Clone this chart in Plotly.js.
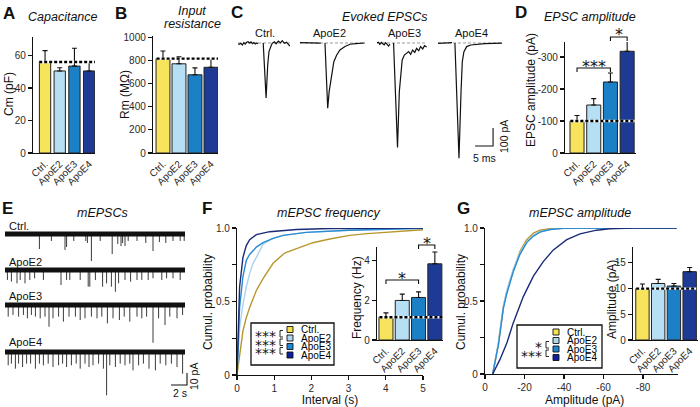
<!DOCTYPE html>
<html><head><meta charset="utf-8">
<script src="https://cdn.plot.ly/plotly-3.0.1.min.js"></script>
<style>html,body{margin:0;padding:0;background:#fff}#chart{width:700px;height:407px}</style>
</head><body><div id="chart"></div>
<script>
// ---------------- DATA ----------------
const groups = ['Ctrl.', 'ApoE2', 'ApoE3', 'ApoE4'];
const barColors = ['#f8e45c', '#b6dff4', '#1b80c6', '#1d3b94'];
const curveColors = ['#b8962e', '#a9d3ee', '#2a8ad0', '#1a2c78'];
const legendColors = ['#f5e44a', '#b0d6ec', '#1e86d2', '#0e1f9c'];

// A: capacitance (pF)
const capMean = [56, 50.5, 53.5, 50.5];
const capSem  = [7, 2, 11, 5.3];
// B: input resistance (MOhm)
const rmMean = [815, 770, 675, 740];
const rmSem  = [65, 60, 60, 75];
// D: evoked EPSC amplitude (pA)
const epscMean = [-100, -150, -222, -318];
const epscSem  = [17, 20, 28, 32];
// F inset: mEPSC frequency (Hz)
const freqMean = [1.15, 2.0, 2.15, 3.85];
const freqSem  = [0.22, 0.32, 0.28, 0.6];
// G inset: mEPSC amplitude (pA)
const ampMean = [10.0, 11.0, 10.5, 13.3];
const ampSem  = [0.9, 0.8, 0.5, 0.8];

// C: example evoked EPSC traces (time ms, current pA)
const cCtrlT = [0,0.4,0.8,1.2,1.6,2.0,2.4,2.8,3.2,3.6,4.0,4.4,4.8,5.2,5.56,null,7.0,7.8,8.25,8.6,9.2,9.5,10.1,10.6,11.2,11.8,12.3,12.9,13.5,14.0,14.4];
const cCtrlI = [-4,-7,-2,-11,2,-6,4,7,0,6,-4,2,-6,0,-4,null,0,-305,-122,-48,-15,-2,7,-4,11,0,13,-2,4,-7,-17];
const cE2T = [0,1,2,3,4,5,5.75,null,6.94,7.7,8.1,8.8,9.4,10.2,11.1,12.5,13.9,15.5,18.0];
const cE2I = [2,1,2,0,1,0,-1,null,0,-363,-270,-178,-104,-67,-39,-19,-7,-3,0];
const cE3T = [0,0.4,0.8,1.2,1.6,2.0,2.4,2.8,3.2,3.6,null,4.6,5.7,6.2,6.6,7.0,7.6,8.2,8.8,9.35,9.9,10.5,11.0,11.6,12.1,12.7,13.2,13.8];
const cE3I = [0,4,-8,3,-4,-10,2,-6,-17,-6,null,0,-580,-270,-159,-94,-67,-57,-48,-63,-39,-52,-30,-43,-20,-33,-15,-22];
const cE4T = [0,1,2,3,3.9,null,4.7,5.83,6.4,6.75,7.2,7.97,9.1,10.75,13,15.5,17.8];
const cE4I = [-2,0,1,0,2,null,0,-640,-270,-104,-48,-20,-11,-7,-4,-2,-1];

// E: mEPSC events (time s, amplitude pA) per example trace; trace length 22.5 s
const eDur = 22.5;
const eCtrlT = [4.3,5.8,7.5,7.7,8.6,10.1,10.3,10.8,11.9,13.4,14.1,14.5,14.7,15.0,15.4,16.5,17.6,18.5,19.3,20.1,21.0,21.9,22.4];
const eCtrlA = [-12.5,-5.8,-13.3,-10.8,-5.8,-5.8,-7.5,-22.5,-5.8,-16.7,-8.3,-10,-7.5,-10,-5.8,-5.8,-7.5,-14.2,-6.7,-7.5,-5.8,-5.8,-5.8];
const eE2T = [0.3,0.8,1.5,1.9,2.5,3.1,3.7,4.8,7.0,7.7,8.1,9.4,10.4,10.6,11.3,12.2,12.7,13.3,13.8,14.2,15.0,15.7,16.5,17.1,17.9,18.5,19.6,20.2,21.0,21.9];
const eE2A = [-8.3,-9.7,-11.1,-8.3,-11.1,-8.3,-6.9,-8.3,-12.5,-8.3,-8.3,-8.3,-13.9,-13.9,-8.3,-13.9,-11.1,-13.9,-18.1,-11.1,-8.3,-9.7,-8.3,-8.3,-8.3,-6.9,-8.3,-6.9,-6.9,-8.3];
const eE3T = [0.4,1.0,1.7,2.3,2.8,3.3,3.8,4.4,5.0,5.5,6.0,6.7,7.3,8.0,8.8,9.4,10.0,10.8,11.5,12.1,12.8,13.5,14.3,14.9,15.6,16.5,17.1,17.7,18.5,19.2,20.0,20.6,21.5,22.2];
const eE3A = [-9.7,-8.3,-9.7,-8.3,-11.1,-8.3,-9.7,-11.1,-9.7,-18.1,-11.1,-9.7,-13.9,-9.7,-9.7,-12.5,-11.1,-9.7,-11.1,-9.7,-15.3,-11.1,-12.5,-9.7,-13.9,-9.7,-11.1,-9.7,-31.4,-11.1,-16.7,-9.7,-11.1,-8.3];
const eE4T = [0.4,0.8,1.3,1.7,2.2,2.7,3.2,3.8,4.3,4.8,5.4,6.0,6.7,7.2,7.7,8.3,8.9,9.4,10.0,10.5,11.0,11.7,12.3,12.7,13.1,13.8,14.4,15.0,15.6,16.0,16.7,17.3,18.0,18.8,19.4,20.1,20.8,21.5,22.2];
const eE4A = [-11.1,-9.7,-13.9,-9.7,-12.5,-9.7,-9.7,-13.9,-9.7,-11.1,-9.7,-12.5,-11.1,-9.7,-12.5,-11.1,-9.7,-13.9,-9.7,-12.5,-11.1,-9.7,-13.9,-36.1,-11.1,-12.5,-9.7,-11.1,-9.7,-15.3,-11.1,-9.7,-13.9,-15.3,-9.7,-11.1,-9.7,-12.5,-18.1];

// F: cumulative probability of inter-event interval (s)
const fCtrlT = [0,0.07,0.16,0.25,0.34,0.52,0.7,0.97,1.28,1.6,2.04,2.49,3.03,3.5,4.0,4.5,5.0];
const fCtrlP = [0,0.14,0.30,0.39,0.46,0.575,0.655,0.76,0.83,0.86,0.90,0.925,0.95,0.962,0.972,0.98,0.988];
const fE2T = [0,0.03,0.07,0.16,0.25,0.34,0.43,0.52,0.61,0.7,0.97,1.24,1.86,3.0,5.0];
const fE2P = [0,0.15,0.32,0.48,0.6,0.69,0.76,0.8,0.84,0.89,0.93,0.95,0.97,0.985,0.998];
const fE3T = [0,0.03,0.07,0.16,0.25,0.34,0.52,0.7,0.97,1.24,1.86,3.0,5.0];
const fE3P = [0,0.22,0.46,0.67,0.78,0.82,0.87,0.9,0.93,0.95,0.97,0.985,0.998];
const fE4T = [0,0.03,0.07,0.16,0.25,0.34,0.52,0.88,1.6,2.5,5.0];
const fE4P = [0,0.3,0.6,0.8,0.88,0.92,0.955,0.975,0.99,0.997,1.0];

// G: cumulative probability of mEPSC amplitude (pA)
const gCtrlA = [-3.9,-6.8,-9.3,-11,-14.3,-17.7,-21.1,-24.5,-27.8,-32.9,-40,-60,-97];
const gCtrlP = [0,0.21,0.46,0.56,0.71,0.84,0.92,0.965,0.985,0.995,1,1,1];
const gE2A = [-3.9,-6.8,-9.3,-11,-14.3,-17.7,-21.1,-24.5,-27.8,-32.9,-40,-60,-97];
const gE2P = [0,0.22,0.47,0.57,0.72,0.83,0.905,0.95,0.975,0.99,1,1,1];
const gE3A = [-3.9,-6.8,-9.3,-11,-14.3,-17.7,-21.1,-24.5,-27.8,-32.9,-40,-60,-97];
const gE3P = [0,0.2,0.45,0.55,0.7,0.82,0.9,0.945,0.972,0.99,0.998,1,1];
const gE4A = [-3.9,-7.6,-11,-14.3,-19.4,-24.5,-29.5,-34.6,-41.4,-48.1,-56.5,-63,-75,-97];
const gE4P = [0,0.1,0.21,0.35,0.53,0.67,0.77,0.85,0.92,0.96,0.985,0.995,1,1];

// ---------------- LAYOUT HELPERS ----------------
const W = 700, H = 407;
const X = p => p / W;
const Y = p => 1 - p / H;
const dx = (a, b) => [a / W, b / W];
const dy = (top, bottom) => [1 - bottom / H, 1 - top / H];
const FONT = 'Liberation Sans, Arial, sans-serif';
const AX = {showline: true, linecolor: '#111', linewidth: 1.2, ticks: 'outside', ticklen: 4,
  tickwidth: 1.1, tickcolor: '#111', showgrid: false, zeroline: false, fixedrange: true,
  tickfont: {family: FONT, size: 10, color: '#2a2a2a'}};
const HID = {visible: false, showgrid: false, zeroline: false, fixedrange: true};

const data = [];
const shapes = [];
const ann = [];

function barPanel(xa, ya, means, sems, negative, width) {
  const zeros = means.map(() => 0);
  data.push({type: 'bar', x: [0, 1, 2, 3], y: means, width: width, xaxis: xa, yaxis: ya,
    marker: {color: barColors, line: {color: '#222', width: 1}},
    error_y: {type: 'data', symmetric: false, array: negative ? zeros : sems,
      arrayminus: negative ? sems : zeros, color: '#111', thickness: 1.1, width: 2.5},
    hoverinfo: 'skip', showlegend: false});
  const ref = means[0];
  data.push({type: 'scatter', mode: 'lines', x: [-0.4, 3.45], y: [ref, ref], xaxis: xa, yaxis: ya,
    line: {color: '#fff', width: 2.4}, hoverinfo: 'skip', showlegend: false});
  data.push({type: 'scatter', mode: 'lines', x: [-0.4, 3.45], y: [ref, ref], xaxis: xa, yaxis: ya,
    line: {color: '#000', width: 2.4, dash: '3px,2px'}, hoverinfo: 'skip', showlegend: false});
}
function line(xa, ya, xs, ys, color, w, dash) {
  data.push({type: 'scatter', mode: 'lines', x: xs, y: ys, xaxis: xa, yaxis: ya,
    line: {color: color, width: w, dash: dash || 'solid'}, connectgaps: false,
    hoverinfo: 'skip', showlegend: false});
}
function txt(px, py, t, size, opts) {
  ann.push(Object.assign({xref: 'paper', yref: 'paper', x: X(px), y: Y(py), text: t,
    showarrow: false, xanchor: 'center', yanchor: 'middle',
    font: {family: FONT, size: size, color: '#111'}}, opts || {}));
}
function catAxis(dom, range) {
  return Object.assign({}, AX, {domain: dom, range: range, tickvals: [0, 1, 2, 3], ticktext: groups,
    tickangle: -45, ticks: ''});
}

// ---- A ----
barPanel('x', 'y', capMean, capSem, false, 0.77);
// ---- B ----
barPanel('x2', 'y2', rmMean, rmSem, false, 0.87);
// ---- D ----
barPanel('x7', 'y4', epscMean, epscSem, true, 0.84);
// ---- F inset ----
barPanel('x10', 'y10', freqMean, freqSem, false, 0.86);
// ---- G inset ----
barPanel('x12', 'y12', ampMean, ampSem, false, 0.85);

// ---- C traces ----
const cTr = [[cCtrlT, cCtrlI, 'x3'], [cE2T, cE2I, 'x4'], [cE3T, cE3I, 'x5'], [cE4T, cE4I, 'x6']];
cTr.forEach(([t, I, xa]) => {
  const tt = t.filter(v => v !== null);
  line(xa, 'y3', [Math.min(...tt), Math.max(...tt)], [0, 0], '#999', 1, '3px,2px');
  line(xa, 'y3', t, I, '#111', 1.2);
});

// ---- E traces ----
const eTr = [[eCtrlT, eCtrlA, 'y5'], [eE2T, eE2A, 'y6'], [eE3T, eE3A, 'y7'], [eE4T, eE4A, 'y8']];
eTr.forEach(([t, A, ya]) => {
  const xs = [], ys = [];
  t.forEach((v, i) => { xs.push(v, v, null); ys.push(0, A[i], null); });
  line('x8', ya, xs, ys, '#3a3a3a', 1);
  line('x8', ya, [0, eDur], [0, 0], '#111', 5);
});

// ---- F curves ----
[[fCtrlT, fCtrlP], [fE2T, fE2P], [fE3T, fE3P], [fE4T, fE4P]].forEach(([t, p], i) =>
  line('x9', 'y9', t, p, curveColors[i], 1.4));
// ---- G curves ----
[[gCtrlA, gCtrlP], [gE2A, gE2P], [gE3A, gE3P], [gE4A, gE4P]].forEach(([a, p], i) =>
  line('x11', 'y11', a, p, curveColors[i], 1.4));

// ---------------- AXES ----------------
const cumTicks = {tickvals: [0, 0.25, 0.5, 0.75, 1], ticktext: ['0', '', '0.5', '', '1.0']};
const xTitleFont = {family: FONT, size: 12, color: '#111'};
const layout = {
  width: W, height: H, margin: {l: 0, r: 0, t: 0, b: 0}, paper_bgcolor: '#fff', plot_bgcolor: 'rgba(0,0,0,0)',
  showlegend: false, font: {family: FONT, color: '#111'},
  // A
  xaxis: Object.assign(catAxis(dx(33, 95), [-0.82, 3.4]), {anchor: 'y'}),
  yaxis: Object.assign({}, AX, {domain: dy(37, 153), range: [0, 71.4], tickvals: [0, 20, 40, 60], anchor: 'x'}),
  // B
  xaxis2: Object.assign(catAxis(dx(153, 218), [-0.625, 3.44]), {anchor: 'y2'}),
  yaxis2: Object.assign({}, AX, {domain: dy(36, 153), range: [0, 1010], tickvals: [0, 200, 400, 600, 800, 1000], anchor: 'x2'}),
  // C
  xaxis3: Object.assign({}, HID, {domain: dx(238, 290), range: [0, 14.44], anchor: 'y3'}),
  xaxis4: Object.assign({}, HID, {domain: dx(300, 365), range: [0, 18.06], anchor: 'y3'}),
  xaxis5: Object.assign({}, HID, {domain: dx(377, 427), range: [0, 13.89], anchor: 'y3'}),
  xaxis6: Object.assign({}, HID, {domain: dx(438, 502), range: [0, 17.78], anchor: 'y3'}),
  yaxis3: Object.assign({}, HID, {domain: dy(25, 165), range: [-678, 100], anchor: 'x3'}),
  // D
  xaxis7: Object.assign(catAxis(dx(565, 636), [-0.72, 3.53]), {anchor: 'y4'}),
  yaxis4: Object.assign({}, AX, {domain: dy(42, 153), range: [0, -347], tickvals: [0, -100, -200, -300],
    ticktext: ['0', '-100', '-200', '-300'], anchor: 'x7'}),
  // E
  xaxis8: Object.assign({}, HID, {domain: dx(5, 193), range: [0, 23.5], anchor: 'y5'}),
  yaxis5: Object.assign({}, HID, {domain: dy(222, 284), range: [-41.67, 10], anchor: 'x8'}),
  yaxis6: Object.assign({}, HID, {domain: dy(258, 320), range: [-41.67, 10], anchor: 'x8'}),
  yaxis7: Object.assign({}, HID, {domain: dy(293, 355), range: [-41.67, 10], anchor: 'x8'}),
  yaxis8: Object.assign({}, HID, {domain: dy(340, 402), range: [-41.67, 10], anchor: 'x8'}),
  // F main
  xaxis9: Object.assign({}, AX, {domain: dx(237, 423), range: [0, 5], tickvals: [0, 1, 2, 3, 4, 5], anchor: 'y9',
    title: {text: 'Interval (s)', font: xTitleFont, standoff: 4}}),
  yaxis9: Object.assign({}, AX, cumTicks, {domain: dy(228, 375), range: [0, 1], anchor: 'x9'}),
  // F inset
  xaxis10: Object.assign(catAxis(dx(377, 443), [-0.55, 3.5]), {anchor: 'y10'}),
  yaxis10: Object.assign({}, AX, {domain: dy(247, 340), range: [0, 4.7], tickvals: [0, 2, 4], anchor: 'x10'}),
  // G main
  xaxis11: Object.assign({}, AX, {domain: dx(485, 678), range: [0, -97.7], tickvals: [0, -20, -40, -60, -80],
    ticktext: ['0', '-20', '-40', '-60', '-80'], anchor: 'y11'}),
  yaxis11: Object.assign({}, AX, cumTicks, {domain: dy(228, 374), range: [0, 1], anchor: 'x11'}),
  // G inset
  xaxis12: Object.assign(catAxis(dx(633, 698), [-0.6, 3.53]), {anchor: 'y12'}),
  yaxis12: Object.assign({}, AX, {domain: dy(247, 340), range: [0, 18.1], tickvals: [0, 5, 10, 15], anchor: 'x12'}),
};

// axis titles placed as text
[['Cm (pF)', 9, 94, 12], ['Rm (MΩ)', 125, 95, 12], ['EPSC amplitude (pA)', 531, 90, 12],
 ['Cumul. probability', 208, 302, 12], ['Frequency (Hz)', 357, 298, 12],
 ['Cumul. probability', 461, 302, 12], ['Amplitude (pA)', 612, 300, 12]]
  .forEach(([t, px, py, s]) => txt(px, py, t, s, {textangle: -90}));
txt(584, 400, 'Amplitude (pA)', 12);

// ---------------- DECORATIONS ----------------
[['A', 9, 14], ['B', 121, 14], ['C', 237, 12], ['D', 521, 12], ['E', 7, 208], ['F', 207, 208], ['G', 464, 208]]
  .forEach(([l, px, py]) => txt(px, py, '<b>' + l + '</b>', 17));
// panel titles
txt(63, 17, '<i>Capacitance</i>', 12.5);
txt(192, 10.5, '<i>Input</i>', 12.5);
txt(192, 24, '<i>resistance</i>', 12.5);
txt(384, 16.5, '<i>Evoked EPSCs</i>', 12.5);
txt(590, 17, '<i>EPSC amplitude</i>', 12.5);
txt(102, 213, '<i>mEPSCs</i>', 12.5);
txt(329, 213, '<i>mEPSC frequency</i>', 12.5);
txt(580, 213, '<i>mEPSC amplitude</i>', 12.5);
// C trace labels
[[265, 'Ctrl.'], [329, 'ApoE2'], [404, 'ApoE3'], [471, 'ApoE4']].forEach(([px, t]) => txt(px, 33, t, 11));
// E trace labels
[[226, 'Ctrl.'], [262, 'ApoE2'], [296, 'ApoE3'], [342, 'ApoE4']].forEach(([py, t]) => txt(7, py, t, 11, {xanchor: 'left'}));

// C scale bar (5 ms, 100 pA)
shapes.push({type: 'path', xref: 'x6', yref: 'y3', path: 'M 10.3,-572 L 15.3,-572 L 15.3,-472', line: {color: '#111', width: 1.1}});
txt(484, 158, '5 ms', 10.5);
txt(504, 137, '100 pA', 10.5, {textangle: -90});
// E scale bar (2 s, 10 pA)
shapes.push({type: 'path', xref: 'x8', yref: 'y8', path: 'M 20.75,-27.5 L 22.75,-27.5 L 22.75,-17.5', line: {color: '#111', width: 1.1}});
txt(180, 393, '2 s', 10.5);
txt(194, 377, '10 pA', 10.5, {textangle: -90});

// significance brackets
function bracket(xa, x0, x1, py, star) {
  shapes.push({type: 'path', xref: xa, yref: 'paper',
    path: `M ${x0},${Y(py + 4)} L ${x0},${Y(py)} L ${x1},${Y(py)} L ${x1},${Y(py + 4)}`,
    line: {color: '#111', width: 1.1}});
  ann.push({xref: xa, yref: 'paper', x: (x0 + x1) / 2, y: Y(py - 2), text: star, showarrow: false,
    xanchor: 'center', yanchor: 'middle', font: {family: 'DejaVu Sans', size: 16, color: '#111'}});
}
bracket('x7', 0, 2, 68, '***');
bracket('x7', 2, 3, 37, '*');
bracket('x10', 0, 2, 280, '*');
bracket('x10', 2, 3, 245, '*');

// in-plot legends (swatches, labels, pairwise significance brackets)
function legendBox(box, rows, sqX, textX, marks, brX, starX) {
  shapes.push({type: 'rect', xref: 'paper', yref: 'paper', x0: X(box[0]), x1: X(box[1]), y0: Y(box[3]), y1: Y(box[2]),
    line: {color: '#111', width: 1.3}, fillcolor: 'rgba(255,255,255,1)', layer: 'above'});
  rows.forEach((r, i) => {
    shapes.push({type: 'rect', xref: 'paper', yref: 'paper', x0: X(sqX), x1: X(sqX + 6), y0: Y(r + 3), y1: Y(r - 3),
      fillcolor: legendColors[i], line: {color: '#111', width: 0.9}, layer: 'above'});
    txt(textX, r, groups[i], 10, {xanchor: 'left', font: {family: FONT, size: 10, color: '#000000'}});
  });
  const centers = [];
  marks.forEach(([i, star]) => {
    const a = rows[i] + 1, b = rows[i + 1] - 1;
    shapes.push({type: 'path', xref: 'paper', yref: 'paper',
      path: `M ${X(brX + 3)},${Y(a)} L ${X(brX)},${Y(a)} L ${X(brX)},${Y(b)} L ${X(brX + 3)},${Y(b)}`,
      line: {color: '#111', width: 0.9}, layer: 'above'});
    centers.push((a + b) / 2 + 2.5);
  });
  // all star labels of one legend in one text block; line pitch = row pitch
  const pitch = rows[1] - rows[0];
  const mid = (centers[0] + centers[centers.length - 1]) / 2;
  ann.push({xref: 'paper', yref: 'paper', x: X(starX), y: Y(mid), showarrow: false,
    xanchor: 'right', yanchor: 'middle', align: 'right',
    text: marks.map(m => '<span style="font-size:14px">' + m[1] + '</span>').join('<br>'),
    font: {family: 'DejaVu Sans', size: pitch / 1.3, color: '#111'}});
}
legendBox([251, 334, 323, 365], [329.5, 338, 346.5, 355], 287, 299, [[0, '***'], [1, '***'], [2, '***']], 280, 278);
legendBox([517, 602, 325, 368], [332, 340.5, 349, 357.5], 553, 565, [[1, '*'], [2, '***']], 546, 544);

layout.shapes = shapes;
layout.annotations = ann;

Plotly.newPlot('chart', data, layout, {staticPlot: true, displayModeBar: false});
</script>
</body></html>
